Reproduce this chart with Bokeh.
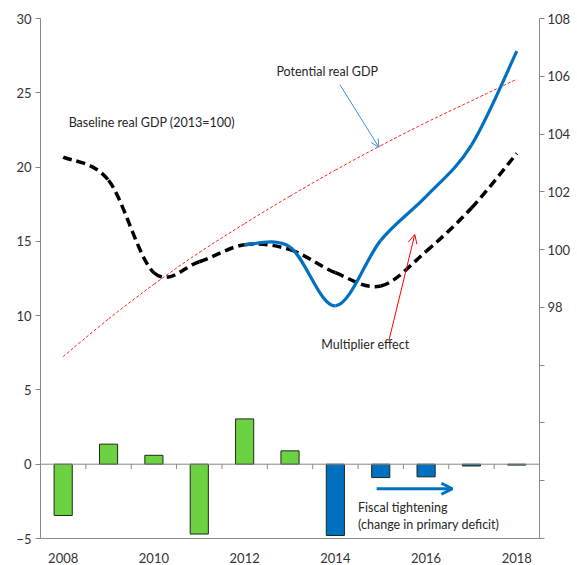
from bokeh.plotting import figure
from bokeh.models import (Range1d, LinearAxis, Span, Label, Arrow, OpenHead,
                          FixedTicker, ColumnDataSource)
from bokeh.embed import file_html
from bokeh.resources import INLINE

# ---------------- data ----------------
years = [2008, 2009, 2010, 2011, 2012, 2013, 2014, 2015, 2016, 2017, 2018]
primary_deficit_change = [-3.45, 1.35, 0.6, -4.7, 3.05, 0.9, -4.8, -0.9, -0.85, -0.12, -0.06]
bar_colors = ["#6CD242"] * 6 + ["#0070C0"] * 5

baseline_gdp = [103.2, 102.4, 99.2, 99.58, 100.17, 100.0, 99.2, 98.74, 99.94, 101.44, 103.33]
potential_gdp = [96.3, 97.6, 98.8, 99.9, 100.9, 101.85, 102.75, 103.6, 104.4, 105.15, 105.9]
multiplier_years = [2012, 2013, 2014, 2015, 2016, 2017, 2018]
multiplier_gdp = [100.17, 100.09, 98.05, 100.32, 101.84, 103.62, 106.87]

left_ticks = [-5, 0, 5, 10, 15, 20, 25, 30]
right_ticks = [90, 92, 94, 96, 98, 100, 102, 104, 106, 108]
right_labels = {90: "", 92: "", 94: "", 96: "", 98: "98", 100: "100", 102: "102",
                104: "104", 106: "106", 108: "108"}
x_labels = [2008, 2010, 2012, 2014, 2016, 2018]

FONT = "Lato"
TXT = "#333333"
AXC = "#898989"


def smooth(xs, ys):
    """Bezier segments of an Excel-like smoothed line through the points."""
    n = len(xs)
    d = dict(x0=[], y0=[], x1=[], y1=[], cx0=[], cy0=[], cx1=[], cy1=[])
    for i in range(n - 1):
        xp, yp = (xs[i - 1], ys[i - 1]) if i > 0 else (xs[i], ys[i])
        xn, yn = (xs[i + 2], ys[i + 2]) if i + 2 < n else (xs[i + 1], ys[i + 1])
        d["x0"].append(xs[i]); d["y0"].append(ys[i])
        d["x1"].append(xs[i + 1]); d["y1"].append(ys[i + 1])
        d["cx0"].append(xs[i] + (xs[i + 1] - xp) / 6)
        d["cy0"].append(ys[i] + (ys[i + 1] - yp) / 6)
        d["cx1"].append(xs[i + 1] - (xn - xs[i]) / 6)
        d["cy1"].append(ys[i + 1] - (yn - ys[i]) / 6)
    return ColumnDataSource(d)


p = figure(width=577, height=565, output_backend="svg", toolbar_location=None,
           x_range=Range1d(years[0] - 0.5, years[-1] + 0.5),
           y_range=Range1d(-5, 30),
           min_border_left=40, min_border_right=38, min_border_top=18,
           min_border_bottom=25, x_axis_location=None, y_axis_location=None)
p.outline_line_color = None
p.grid.visible = False
p.background_fill_color = "white"
p.border_fill_color = "white"
p.extra_y_ranges = {"gdp": Range1d(90, 108)}

# left axis
ly = LinearAxis(ticker=FixedTicker(ticks=left_ticks))
ly.axis_line_color = AXC
ly.major_tick_line_color = AXC
ly.major_tick_out = 5
ly.major_tick_in = 0
ly.minor_tick_line_color = None
ly.major_label_standoff = 4
ly.major_label_text_font = FONT
ly.major_label_text_font_size = "13px"
ly.major_label_text_color = TXT
p.add_layout(ly, "left")

# right axis
ry = LinearAxis(y_range_name="gdp", ticker=FixedTicker(ticks=right_ticks),
                major_label_overrides=right_labels)
ry.axis_line_color = AXC
ry.major_tick_line_color = AXC
ry.major_tick_out = 5
ry.major_tick_in = 0
ry.minor_tick_line_color = None
ry.major_label_standoff = 3
ry.major_label_text_font = FONT
ry.major_label_text_font_size = "13px"
ry.major_label_text_color = TXT
p.add_layout(ry, "right")

# bottom axis (labels at the bottom)
bx = LinearAxis(ticker=FixedTicker(ticks=x_labels))
bx.axis_line_color = AXC
bx.major_tick_line_color = None
bx.minor_tick_line_color = None
bx.major_label_standoff = 8
bx.major_label_text_font = FONT
bx.major_label_text_font_size = "13px"
bx.major_label_text_color = TXT
p.add_layout(bx, "below")

# zero line with category tick marks
p.add_layout(Span(location=0, dimension="width", line_color=AXC, line_width=1))
bounds = [y + 0.5 for y in years[:-1]]
p.segment(x0=bounds, x1=bounds, y0=[0] * len(bounds), y1=[-0.33] * len(bounds),
          line_color=AXC, line_width=1)

# bars
bar_src = ColumnDataSource(dict(x=years, top=primary_deficit_change, color=bar_colors))
p.vbar(x="x", top="top", width=0.4, source=bar_src, fill_color="color",
       line_color="#1b2a1b", line_width=1)

# lines (right axis)
p.bezier(x0="x0", y0="y0", x1="x1", y1="y1", cx0="cx0", cy0="cy0", cx1="cx1", cy1="cy1",
         source=smooth(years, potential_gdp), y_range_name="gdp",
         line_color="#FF2020", line_width=1, line_dash="3 2")
p.bezier(x0="x0", y0="y0", x1="x1", y1="y1", cx0="cx0", cy0="cy0", cx1="cx1", cy1="cy1",
         source=smooth(years, baseline_gdp), y_range_name="gdp",
         line_color="black", line_width=3.5, line_dash="9 5")
p.bezier(x0="x0", y0="y0", x1="x1", y1="y1", cx0="cx0", cy0="cy0", cx1="cx1", cy1="cy1",
         source=smooth(multiplier_years, multiplier_gdp), y_range_name="gdp",
         line_color="#0070C0", line_width=3.2)

# annotations
def lab(x, y, t):
    p.add_layout(Label(x=x, y=y, text=t, text_font=FONT, text_font_size="12.5px",
                       text_color="#262626", text_baseline="middle", text_align="left"))

lab(2008.12, 23.0, "Baseline real GDP (2013=100)")
lab(2012.70, 26.46, "Potential  real GDP")
lab(2013.69, 8.05, "Multiplier effect")
lab(2014.50, -2.88, "Fiscal tightening")
lab(2014.50, -4.08, "(change in primary deficit)")

p.add_layout(Arrow(x_start=2014.10, y_start=25.55, x_end=2014.96, y_end=21.33,
                   line_color="#3A8FD6", line_width=1,
                   end=OpenHead(size=8, line_color="#3A8FD6", line_width=1)))
p.add_layout(Arrow(x_start=2015.18, y_start=8.32, x_end=2015.75, y_end=15.46,
                   line_color="#FF0000", line_width=1,
                   end=OpenHead(size=9, line_color="#FF0000", line_width=1)))
p.add_layout(Arrow(x_start=2014.91, y_start=-1.65, x_end=2016.58, y_end=-1.65,
                   line_color="#0070C0", line_width=3,
                   end=OpenHead(size=11, line_color="#0070C0", line_width=3)))

open("out.html", "w").write(file_html(p, INLINE))
